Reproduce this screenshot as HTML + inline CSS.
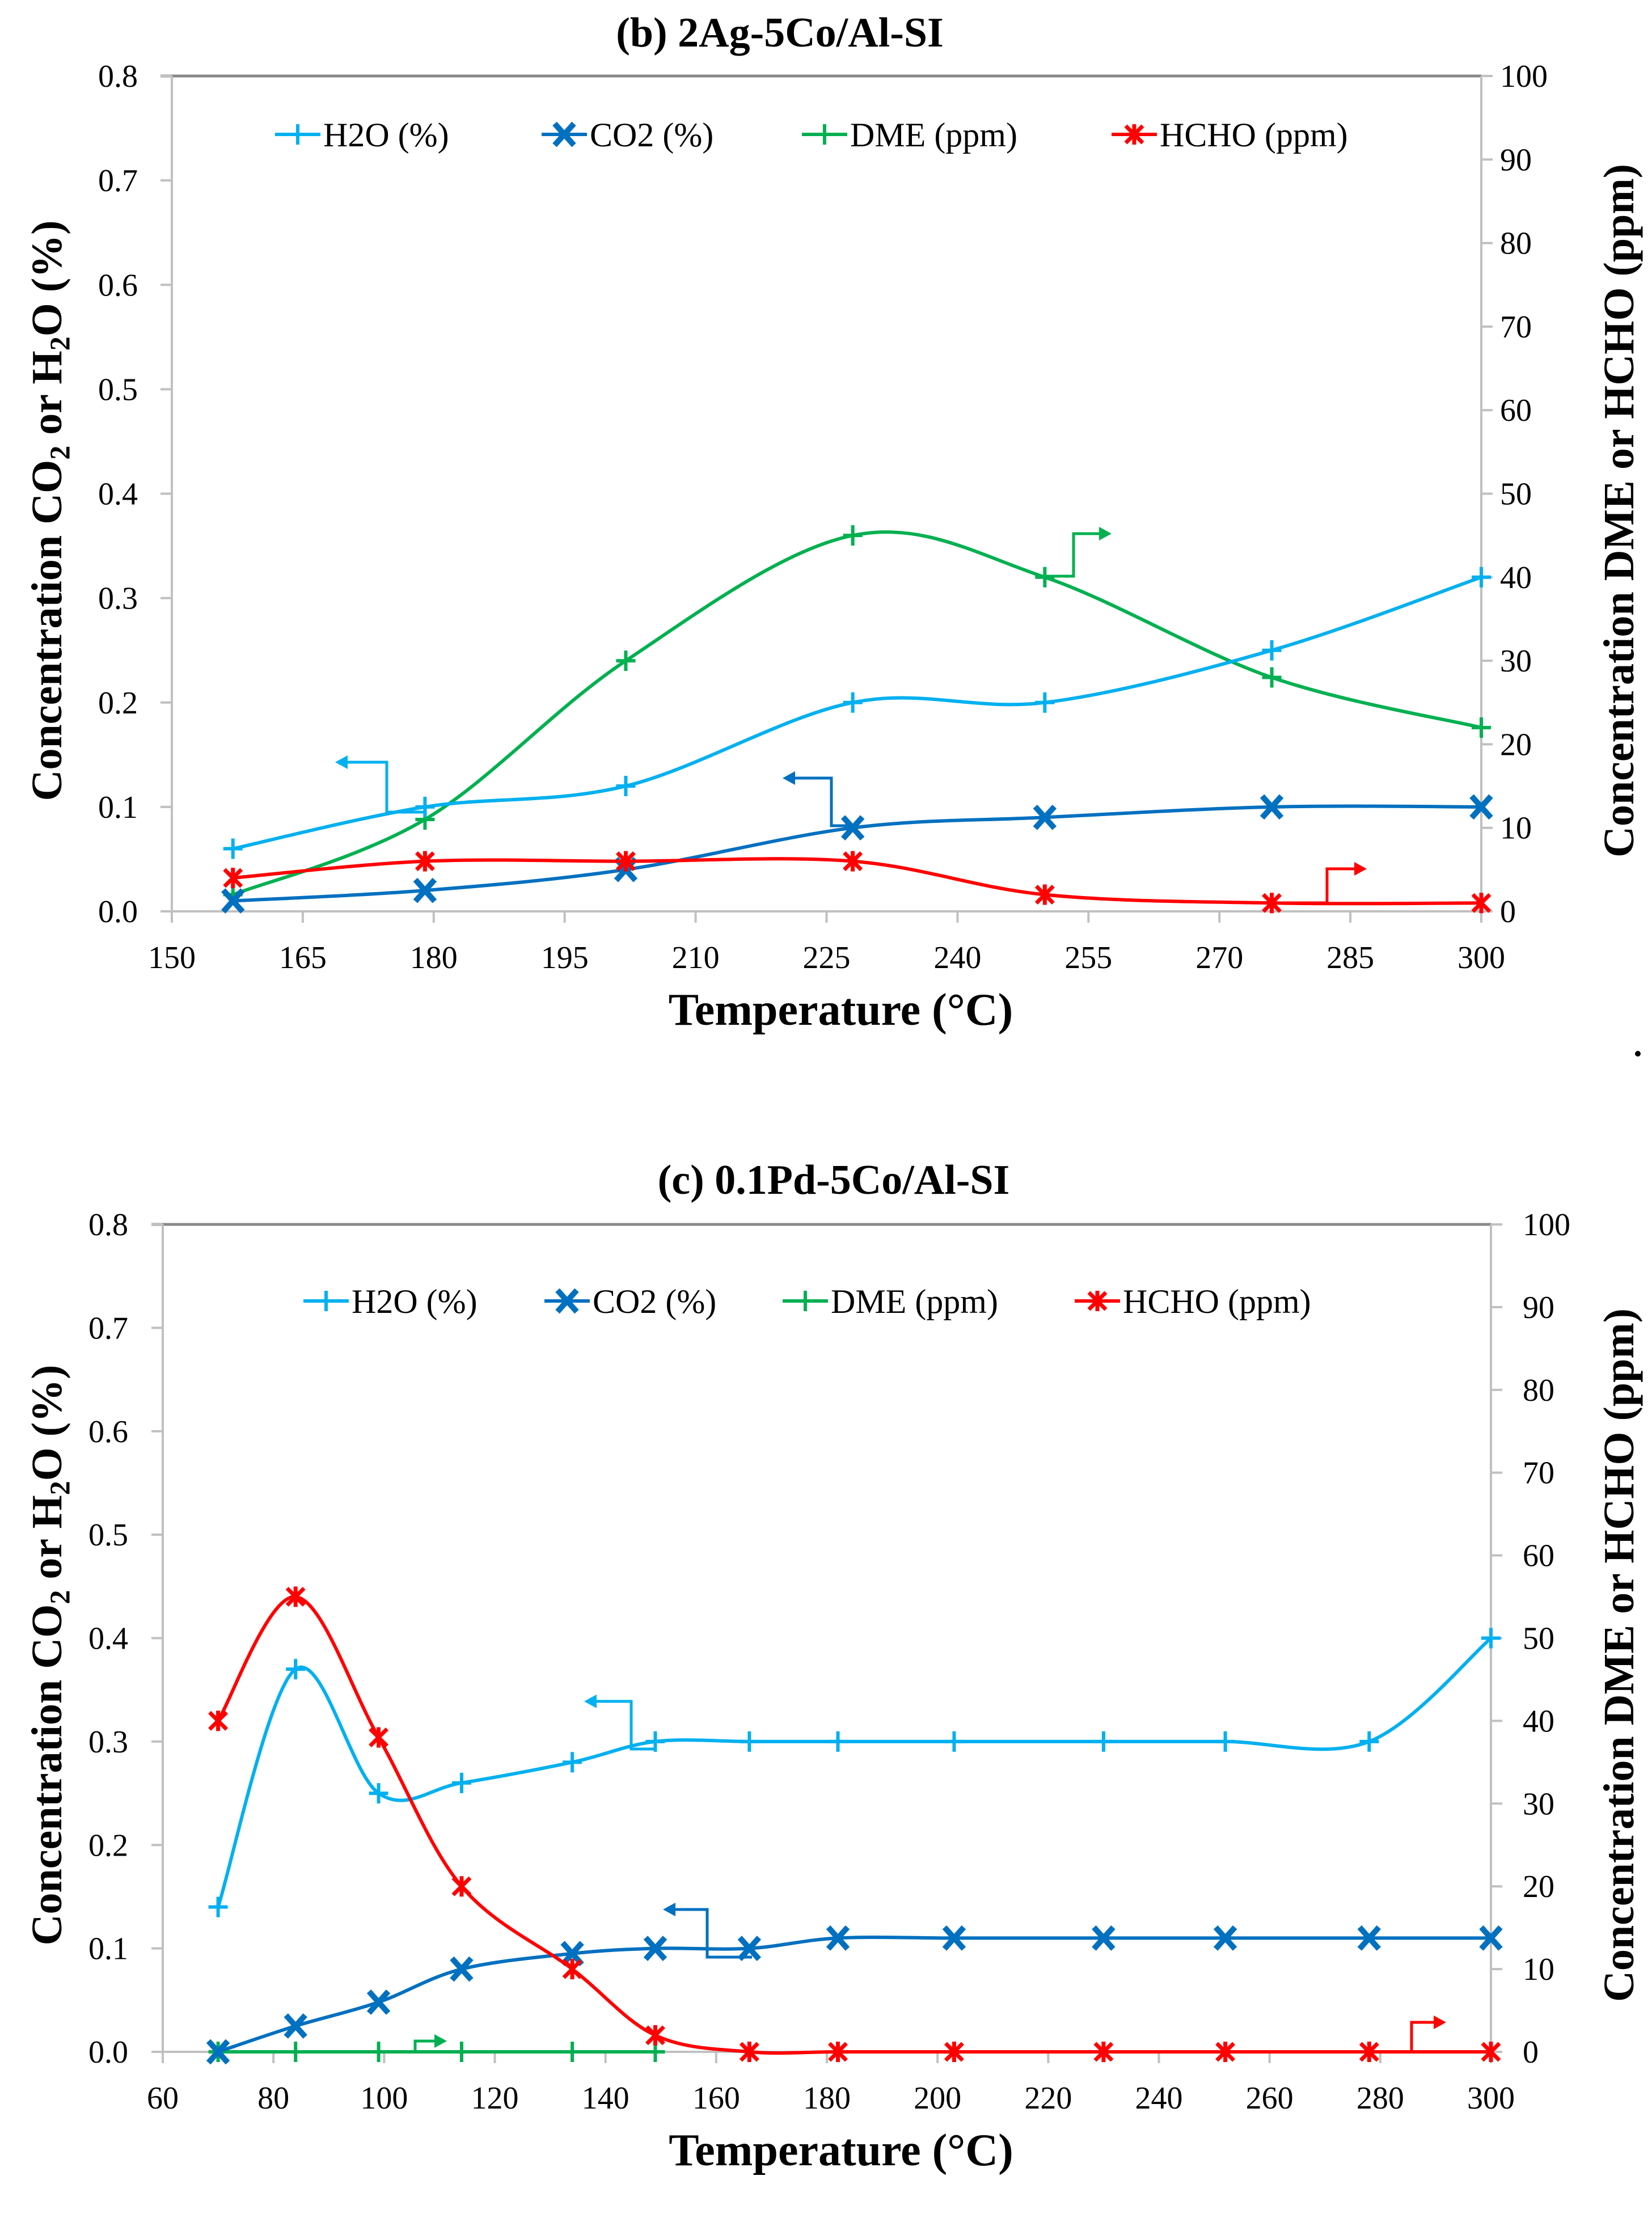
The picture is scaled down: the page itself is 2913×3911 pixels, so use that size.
<!DOCTYPE html>
<html><head><meta charset="utf-8">
<style>
html,body{margin:0;padding:0;background:#fff;}
svg{display:block;}
text{font-family:"Liberation Serif",serif;fill:#000;}
</style></head>
<body>
<svg id="fig" width="2913" height="3911" viewBox="0 0 2913 3911" xmlns="http://www.w3.org/2000/svg"></svg>
<script>
// ---- Chart (b) data ----
const bTemps = [157, 179, 202, 228, 250, 276, 300];
const bH2O = [0.06, 0.10, 0.12, 0.20, 0.20, 0.25, 0.32];
const bCO2 = [0.01, 0.02, 0.04, 0.08, 0.09, 0.10, 0.10];
const bDME = [2, 11, 30, 45, 40, 28, 22];
const bHCHO = [4, 6, 6, 6, 2, 1, 1];
const bXTicks = [150, 165, 180, 195, 210, 225, 240, 255, 270, 285, 300];
// ---- Chart (c) data ----
const cTemps = [70, 84, 99, 114, 134, 149, 166, 182, 203, 230, 252, 278, 300];
const cH2O = [0.14, 0.37, 0.25, 0.26, 0.28, 0.30, 0.30, 0.30, 0.30, 0.30, 0.30, 0.30, 0.40];
const cCO2 = [0, 0.025, 0.048, 0.08, 0.095, 0.10, 0.10, 0.11, 0.11, 0.11, 0.11, 0.11, 0.11];
const cDMETemps = [70, 84, 99, 114, 134, 149];
const cDME = [0, 0, 0, 0, 0, 0];
const cHCHO = [40, 55, 38, 20, 10, 2, 0, 0, 0, 0, 0, 0, 0];
const cXTicks = [60, 80, 100, 120, 140, 160, 180, 200, 220, 240, 260, 280, 300];
const leftTicks = [0, 0.1, 0.2, 0.3, 0.4, 0.5, 0.6, 0.7, 0.8];
const leftTickLabels = ["0.0","0.1","0.2","0.3","0.4","0.5","0.6","0.7","0.8"];
const rightTicks = [0, 10, 20, 30, 40, 50, 60, 70, 80, 90, 100];

const NS = "http://www.w3.org/2000/svg";
const svg = document.getElementById('fig');
const C_H2O = "#00b0f0", C_CO2 = "#0070c0", C_DME = "#00b050", C_HCHO = "#ff0000";

function el(tag, attrs, parent) {
  const e = document.createElementNS(NS, tag);
  for (const k in attrs) e.setAttribute(k, attrs[k]);
  (parent || svg).appendChild(e);
  return e;
}
function smoothPath(pts) {
  if (pts.length < 2) return "";
  let d = "M" + pts[0][0] + "," + pts[0][1];
  for (let i = 0; i < pts.length - 1; i++) {
    const p0 = pts[i - 1] || pts[i], p1 = pts[i], p2 = pts[i + 1], p3 = pts[i + 2] || p2;
    const t = 1 / 6;
    const c1x = p1[0] + (p2[0] - p0[0]) * t, c1y = p1[1] + (p2[1] - p0[1]) * t;
    const c2x = p2[0] - (p3[0] - p1[0]) * t, c2y = p2[1] - (p3[1] - p1[1]) * t;
    d += " C" + c1x + "," + c1y + " " + c2x + "," + c2y + " " + p2[0] + "," + p2[1];
  }
  return d;
}
function marker(g, type, x, y, color) {
  if (type === 'plus') {
    el('path', {d:`M${x-17},${y}H${x+17}M${x},${y-18}V${y+18}`, stroke:color, 'stroke-width':6, fill:'none'}, g);
  } else if (type === 'x') {
    el('path', {d:`M${x-17},${y-19}L${x+17},${y+19}M${x+17},${y-19}L${x-17},${y+19}`, stroke:color, 'stroke-width':10, fill:'none'}, g);
  } else {
    el('path', {d:`M${x-15},${y-15}L${x+15},${y+15}M${x+15},${y-15}L${x-15},${y+15}M${x},${y-18}V${y+18}`, stroke:color, 'stroke-width':7, fill:'none'}, g);
  }
}
function arrowPath(g, pts, color, name) {
  const p = el('path', {d: "M" + pts.map(q => q.join(",")).join(" L"), stroke: color, 'stroke-width': 5, fill: 'none'}, g);
  
  
  const a = pts[pts.length - 1], b = pts[pts.length - 2];
  const dir = Math.sign(a[0] - b[0]);
  const h = el('path', {d:`M${a[0]+dir*22},${a[1]} L${a[0]},${a[1]-12} L${a[0]},${a[1]+12}Z`, fill: color}, g);
  
  
}

function chart(cfg) {
  const g = el('g', {});
  
  
  const {L, R, T, B, xmin, xmax} = cfg;
  const xs = v => L + (v - xmin) / (xmax - xmin) * (R - L);
  const yl = v => B - v / 0.8 * (B - T);
  const yr = v => B - v / 100 * (B - T);
  const top = el('line', {x1:L-20, y1:T, x2:R, y2:T, stroke:'#888', 'stroke-width':5}, g);
   
  const la = el('line', {x1:L, y1:T, x2:L, y2:B+20, stroke:'#c0c0c0', 'stroke-width':4}, g);
   
  const ra = el('line', {x1:R, y1:T, x2:R, y2:B+20, stroke:'#c0c0c0', 'stroke-width':4}, g);
   
  const xa = el('line', {x1:L-20, y1:B, x2:R+20, y2:B, stroke:'#c0c0c0', 'stroke-width':4}, g);
   
  leftTicks.forEach((v, i) => {
    el('line', {x1:L-20, y1:yl(v), x2:L, y2:yl(v), stroke:'#c0c0c0', 'stroke-width':4}, g);
    const t = el('text', {x:cfg.leftLabelX, y:yl(v)+19, 'font-size':56, 'text-anchor':'end'}, g);
    t.textContent = leftTickLabels[i];
     
  });
  rightTicks.forEach(v => {
    el('line', {x1:R, y1:yr(v), x2:R+20, y2:yr(v), stroke:'#c0c0c0', 'stroke-width':4}, g);
    const t = el('text', {x:cfg.rightLabelX, y:yr(v)+19, 'font-size':56}, g);
    t.textContent = v;
     
  });
  cfg.xTicks.forEach(v => {
    el('line', {x1:xs(v), y1:B, x2:xs(v), y2:B+20, stroke:'#c0c0c0', 'stroke-width':4}, g);
    const t = el('text', {x:xs(v), y:B+100, 'font-size':56, 'text-anchor':'middle'}, g);
    t.textContent = v;
     
  });
  const tt = el('text', {x:cfg.titleX, y:cfg.titleY, 'font-size':74, 'font-weight':'bold', 'text-anchor':'middle'}, g);
  tt.textContent = cfg.title;
   
  const xt = el('text', {x:(L+R)/2 + 25, y:B+200, 'font-size':80, 'font-weight':'bold', 'text-anchor':'middle'}, g);
  xt.textContent = "Temperature (°C)";
   
  const lcy = (T + B) / 2 + 30;
  const ylt = el('text', {x:0, y:0, 'font-size':76, 'font-weight':'bold', 'text-anchor':'middle', transform:`translate(${cfg.leftTitleX},${lcy}) rotate(-90)`}, g);
  ylt.innerHTML = 'Concentration CO<tspan font-size="50" dy="14">2</tspan><tspan dy="-14"> or H</tspan><tspan font-size="50" dy="14">2</tspan><tspan dy="-14">O (%)</tspan>';
   
  const yrt = el('text', {x:0, y:0, 'font-size':76, 'font-weight':'bold', 'text-anchor':'middle', transform:`translate(${cfg.rightTitleX},${lcy}) rotate(-90)`}, g);
  yrt.textContent = cfg.rightTitle;
   
  const legend = el('g', {}, g);
   
  const items = [["H2O (%)", C_H2O, 'plus'], ["CO2 (%)", C_CO2, 'x'], ["DME (ppm)", C_DME, 'plus'], ["HCHO (ppm)", C_HCHO, 'star']];
  items.forEach((it, i) => {
    const lx = cfg.legendX[i], ly = cfg.legendY;
    const eg = el('g', {}, legend);
     
    el('line', {x1:lx, y1:ly, x2:lx+80, y2:ly, stroke:it[1], 'stroke-width':6}, eg);
    marker(eg, it[2], lx+40, ly, it[1]);
    const t = el('text', {x:lx+85, y:ly+21, 'font-size':60}, eg);
    t.textContent = it[0];
  });
  function series(name, temps, vals, ys, color, mk) {
    const sg = el('g', {}, g);
     
    const pts = temps.map((t, i) => [xs(t), ys(vals[i])]);
    const p = el('path', {d:smoothPath(pts), stroke:color, 'stroke-width':6, fill:'none'}, sg);
     
    pts.forEach(q => marker(sg, mk, q[0], q[1], color));
  }
  series('series-dme', cfg.dmeTemps, cfg.dme, yr, C_DME, 'plus');
  series('series-h2o', cfg.temps, cfg.h2o, yl, C_H2O, 'plus');
  series('series-co2', cfg.temps, cfg.co2, yl, C_CO2, 'x');
  series('series-hcho', cfg.temps, cfg.hcho, yr, C_HCHO, 'star');
  cfg.arrows.forEach(a => arrowPath(g, a[0], a[1], a[2]));
}

chart({
  name:'chart-b', L:303, R:2612, T:134, B:1607, xmin:150, xmax:300,
  xTicks:bXTicks, temps:bTemps, h2o:bH2O, co2:bCO2, dme:bDME, dmeTemps:bTemps, hcho:bHCHO,
  leftLabelX:243, rightLabelX:2645, title:"(b) 2Ag-5Co/Al-SI", titleX:1375, titleY:82,
  leftTitleX:108, rightTitleX:2880, rightTitle:"Concentration DME or HCHO (ppm)",
  legendX:[485, 955, 1414, 1960], legendY:237,
  arrows:[
    [[[752,1432],[682,1432],[682,1344],[613,1344]], C_H2O, 'h2o-axis-arrow'],
    [[[1503,1456],[1466,1456],[1466,1372],[1402,1372]], C_CO2, 'co2-axis-arrow'],
    [[[1842,1016],[1893,1016],[1893,941],[1938,941]], C_DME, 'dme-axis-arrow'],
    [[[2253,1592],[2340,1592],[2340,1532],[2388,1532]], C_HCHO, 'hcho-axis-arrow']
  ]
});
chart({
  name:'chart-c', L:287, R:2629, T:2159, B:3618, xmin:60, xmax:300,
  xTicks:cXTicks, temps:cTemps, h2o:cH2O, co2:cCO2, dme:cDME, dmeTemps:cDMETemps, hcho:cHCHO,
  leftLabelX:226, rightLabelX:2685, title:"(c) 0.1Pd-5Co/Al-SI", titleX:1470, titleY:2105,
  leftTitleX:108, rightTitleX:2880, rightTitle:"Concentration DME or HCHO  (ppm)",
  legendX:[535, 960, 1380, 1895], legendY:2294,
  arrows:[
    [[[1158,3084],[1113,3084],[1113,3000],[1052,3000]], C_H2O, 'h2o-axis-arrow'],
    [[[1326,3451],[1247,3451],[1247,3367],[1191,3367]], C_CO2, 'co2-axis-arrow'],
    [[[672,3618],[732,3618],[732,3599],[766,3599]], C_DME, 'dme-axis-arrow'],
    [[[2430,3618],[2489,3618],[2489,3566],[2528,3566]], C_HCHO, 'hcho-axis-arrow']
  ]
});
const dot = el('circle', {cx:2888, cy:1858, r:5, fill:'#000'});


</script>
</body></html>
